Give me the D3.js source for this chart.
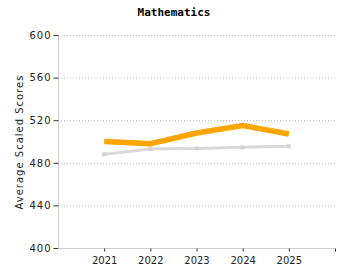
<!DOCTYPE html>
<html><head><meta charset="utf-8">
<script src="https://cdn.jsdelivr.net/npm/d3@7"></script>
<style>
body{margin:0;background:#fff;}
text{font-family:"DejaVu Sans",Verdana,sans-serif;}
</style></head><body>
<svg id="c" width="350" height="280"></svg>
<script>
const years = [2021, 2022, 2023, 2024, 2025];
const mathScores = [500, 498, 508, 515, 507];
const compareScores = [488, 493, 493.5, 494.5, 495.5];
const yTicks = [400, 440, 480, 520, 560, 600];
const title = "Mathematics";
const yLabel = "Average Scaled Scores";

const svg = d3.select("#c");
const m = {l:58, r:15, t:35, b:32};
const W = 350, H = 280;
const x = d3.scaleLinear().domain([2020, 2026]).range([m.l, W - m.r]);
const y = d3.scaleLinear().domain([400, 600]).range([H - m.b, m.t]);

// grid
svg.append("g").selectAll("line").data(yTicks.filter(d => d > 400)).join("line")
  .attr("x1", m.l).attr("x2", W - m.r)
  .attr("y1", d => y(d) + 0.5).attr("y2", d => y(d) + 0.5)
  .attr("stroke", "#bbb").attr("stroke-dasharray", "1,2");

// y axis
const ya = svg.append("g").attr("transform", `translate(${m.l + 0.5},0)`)
  .call(d3.axisLeft(y).tickValues(yTicks).tickSize(5).tickPadding(2));
ya.select(".domain").attr("stroke", "#ccc").attr("d", `M0,${m.t}V${H - m.b}`);
ya.selectAll(".tick line").attr("stroke", "#333");
ya.selectAll(".tick text").attr("font-size", 10).attr("letter-spacing", "1px")
  .attr("fill", "#222").style("font-family", "DejaVu Sans");

// x axis
const xa = svg.append("g").attr("transform", `translate(0,${H - m.b + 0.5})`)
  .call(d3.axisBottom(x).tickValues(years.concat([2026])).tickSize(3).tickPadding(5)
    .tickFormat(d => d === 2026 ? "" : d3.format("d")(d)));
xa.select(".domain").attr("stroke", "#ccc").attr("d", `M${m.l},0H${W - m.r}`);
xa.selectAll(".tick line").attr("stroke", "#333");
xa.selectAll(".tick text").attr("font-size", 10).attr("fill", "#222")
  .style("font-family", "DejaVu Sans");

const line = d3.line().x((d, i) => x(years[i])).y(d => y(d));

// comparison line
svg.append("path").datum(compareScores).attr("d", line)
  .attr("fill", "none").attr("stroke", "#d9d9d9").attr("stroke-width", 3);
svg.append("g").selectAll("rect").data(compareScores).join("rect")
  .attr("x", (d, i) => x(years[i]) - 2).attr("y", d => y(d) - 2)
  .attr("width", 4).attr("height", 4).attr("fill", "#d2d2d2");

// math line
svg.append("path").datum(mathScores).attr("d", line)
  .attr("fill", "none").attr("stroke", "#ffa500").attr("stroke-width", 5.5)
  .attr("stroke-linejoin", "miter");

// title
svg.append("text").attr("x", 174).attr("y", 16).attr("text-anchor", "middle")
  .attr("font-size", 11).attr("font-weight", "bold")
  .style("font-family", "DejaVu Sans Mono").text(title);

// y label
svg.append("text").attr("transform", `translate(23,142) rotate(-90)`)
  .attr("text-anchor", "middle").attr("font-size", 10).attr("letter-spacing", "1px")
  .attr("fill", "#222").text(yLabel);
</script>
</body></html>
